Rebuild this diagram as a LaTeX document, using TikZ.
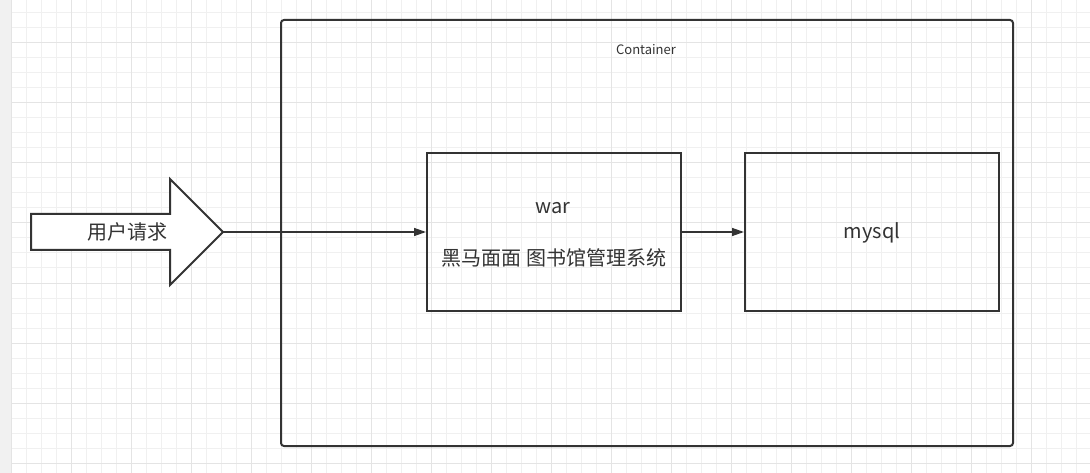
\documentclass[tikz,border=0pt]{standalone}
\usepackage{fontspec}
\setmainfont{Noto Sans CJK SC}
\usetikzlibrary{arrows.meta}
\definecolor{ink}{HTML}{333333}
\definecolor{gminor}{HTML}{F0F0F0}
\definecolor{gmajor}{HTML}{E4E4E4}
\definecolor{strip}{HTML}{F1F1F1}
\begin{document}
\begin{tikzpicture}[x=1pt,y=-1pt,
  boxstyle/.style={draw=ink,line width=2pt,minimum width=254pt,minimum height=158pt,inner sep=0pt},
  conn/.style={draw=ink,line width=1.4pt,-{Triangle[length=12pt,width=8pt]}},
  lbl/.style={text=ink,inner sep=0pt,font=\fontsize{20}{23}\selectfont},
  small/.style={text=ink,inner sep=0pt,font=\fontsize{13}{15}\selectfont}]
\useasboundingbox (0,0) rectangle (1090,473);
\fill[white] (0,0) rectangle (1090,473);
\fill[strip] (0,0) rectangle (11,473);
% grid
\foreach \x in {26,41,...,1090} \draw[gminor,line width=1pt] (\x,0) -- (\x,473);
\foreach \y in {13,28,...,473} \draw[gminor,line width=1pt] (11,\y) -- (1090,\y);
\foreach \x in {71,131,...,1090} \draw[gmajor,line width=1pt] (\x,0) -- (\x,473);
\foreach \y in {43,103,...,473} \draw[gmajor,line width=1pt] (11,\y) -- (1090,\y);
\draw[gmajor,line width=1pt] (11,0) -- (11,473);
% container
\node[draw=ink,line width=2pt,rounded corners=3pt,minimum width=732pt,minimum height=426pt,anchor=north west,inner sep=0pt] (cont) at (280,19) {};
\node[small] (contlbl) at (646,50) {Container};
% big arrow
\coordinate (tip) at (223,232);
\draw[ink,line width=2pt,fill=white,line join=miter] (31,214) -- (170,214) -- (170,179) -- (tip) -- (170,285) -- (170,250) -- (31,250) -- cycle;
\node[lbl] (req) at (127,232) {用户请求};
% boxes
\node[boxstyle] (war) at (554,232) {};
\node[lbl] (wartitle) at (553,208) {war};
\node[lbl] (warsub) at (554,258) {黑马面面 图书馆管理系统};
\node[boxstyle] (mysql) at (872,232) {};
\node[lbl] (mysqllbl) at (872,233) {mysql};
% connectors
\draw[conn] (tip) -- (war.west);
\draw[conn] (war.east) -- (mysql.west);
\end{tikzpicture}
\end{document}
